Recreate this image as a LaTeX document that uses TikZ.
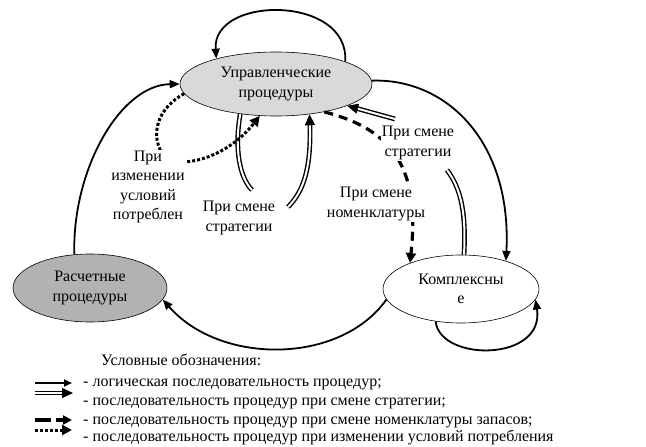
\documentclass[tikz,border=0pt]{standalone}
\usepackage{fontspec}
\setmainfont{Liberation Serif}
\usetikzlibrary{arrows.meta,shapes.geometric}
\begin{document}
\begin{tikzpicture}[x=1pt,y=-1pt,
  every node/.style={font=\fontsize{16}{19.5}\selectfont},
  proc/.style={ellipse,draw=black,line width=0.6pt,inner sep=0pt,align=center},
  lbl/.style={fill=white,inner sep=1pt,align=center},
  flow/.style={line width=1.8pt,-{Triangle[length=10pt,width=8pt]}},
  strat/.style={line width=1.4pt,double=white,double distance=2pt},
  stratarrow/.style={strat,-{Triangle[length=11pt,width=10pt]}},
  nomen/.style={line width=3.2pt,dash pattern=on 9pt off 6pt,-{Triangle[length=10pt,width=10pt]}},
  cond/.style={line width=3pt,dash pattern=on 3pt off 2pt,-{Triangle[length=10pt,width=10pt]}},
  legtext/.style={anchor=base west,inner sep=0pt}
]
\useasboundingbox (0,0) rectangle (646,447);

% process ellipses
\node[proc,fill=gray!30,minimum width=192pt,minimum height=64pt] (T) at (276,84) {Управленческие\\процедуры};
\node[proc,fill=gray!60,minimum width=154pt,minimum height=68pt] (L) at (90,288) {Расчетные\\процедуры};
\node[proc,fill=white,minimum width=156pt,minimum height=68pt] (R) at (461,289) {Комплексны\\е};

% logical sequence
\draw[flow] (L.115) .. controls (72,170) and (120,85) .. (T.180);
\draw[flow] (T.2) .. controls (445,78) and (512,140) .. (R.32);
\draw[flow] (R.188) .. controls (340,365) and (220,365) .. (L.351);
\draw[flow] (R.232) .. controls (440,362) and (545,362) .. (R.352);
\draw[flow] (T.18) .. controls (350,-5) and (212,-5) .. (T.157);

% strategy change (double)
\coordinate (a1) at (252,190);
\coordinate (b0) at (288,207);
\coordinate (c0) at (395,119);
\coordinate (d0) at (447,170);
\draw[strat] (T.220) .. controls (234,150) and (240,178) .. (a1);
\draw[stratarrow] (b0) .. controls (305,190) and (311,165) .. (T.318);
\draw[stratarrow] (c0) -- (T.343);
\draw[strat] (d0) .. controls (462,190) and (466,215) .. (R.85);

% nomenclature change (dashed)
\draw[nomen] (T.330) .. controls (395,130) and (420,170) .. (R.153);

% consumption conditions change (dotted)
\draw[cond] (T.186) .. controls (158,108) and (148,135) .. (165,158) .. controls (180,168) and (225,160) .. (T.243);

% labels
\node[lbl] (lc) at (148,187) {При\\изменении\\условий\\потреблен};
\node[lbl] (ls1) at (239,218) {При смене\\стратегии};
\node[lbl] (ls2) at (418,143) {При смене\\стратегии};
\node[lbl] (ln) at (376,204) {При смене\\номенклатуры};

% legend
\node[legtext] (lg0) at (101,365.5) {Условные обозначения:};
\node[legtext] (lg1) at (83,386.5) {- логическая последовательность процедур;};
\node[legtext] (lg2) at (83,405.5) {- последовательность процедур при смене стратегии;};
\node[legtext] (lg3) at (83,424.5) {- последовательность процедур при смене номенклатуры запасов;};
\node[legtext] (lg4) at (83,441.5) {- последовательность процедур при изменении условий потребления};

\coordinate (k1a) at (35,383); \coordinate (k1b) at (72,383);
\coordinate (k2a) at (35,393); \coordinate (k2b) at (73,393);
\coordinate (k3a) at (35,420); \coordinate (k3b) at (72,420);
\coordinate (k4a) at (35,430); \coordinate (k4b) at (72,430);
\draw[line width=1.6pt,-{Triangle[length=8pt,width=7pt]}] (k1a) -- (k1b);
\draw[stratarrow] (k2a) -- (k2b);
\draw[line width=3.5pt,dash pattern=on 16pt off 5pt,-{Triangle[length=9pt,width=9pt]}] (k3a) -- (k3b);
\draw[cond] (k4a) -- (k4b);
\end{tikzpicture}
\end{document}
